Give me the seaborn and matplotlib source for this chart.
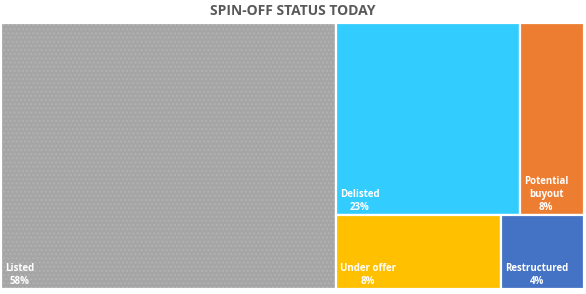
import matplotlib
matplotlib.use("Agg")
import matplotlib.pyplot as plt
import seaborn as sns

# ---- data ----
categories = ["Listed", "Delisted", "Potential\nbuyout", "Under offer", "Restructured"]
values = [58, 23, 8, 8, 4]
pct_labels = ["58%", "23%", "8%", "8%", "4%"]
colors = ["#A5A5A5", "#33CCFF", "#ED7D31", "#FFC000", "#4472C4"]
title = "SPIN-OFF STATUS TODAY"

sns.set_theme(style="white")
plt.rcParams["font.family"] = ["Open Sans", "DejaVu Sans"]

fig = plt.figure(figsize=(5.86, 2.94), dpi=100)
ax = fig.add_axes([1 / 586, 5 / 294, 583 / 586, 266 / 294])

W, H = 1.0, 1.0
total = sum(values)
# layout: first item takes a full-height column; remaining split in two rows
x0 = values[0] / total * W
rects = [(0.0, 0.0, x0, H)]
rest = values[1:]
top_row = rest[:2]
bot_row = rest[2:]
rest_sum = sum(rest)
h_top = sum(top_row) / rest_sum * H
h_bot = H - h_top
rw = W - x0
xx = x0
for v in top_row:
    w = v / sum(top_row) * rw
    rects.append((xx, h_bot, w, h_top))
    xx += w
xx = x0
for v in bot_row:
    w = v / sum(bot_row) * rw
    rects.append((xx, 0.0, w, h_bot))
    xx += w

for i, ((x, y, w, h), c) in enumerate(zip(rects, colors)):
    if i == 0:
        ax.bar(x, h, width=w, bottom=y, align="edge", color=c,
               edgecolor="#B2B2B2", linewidth=0, hatch="....")
    else:
        ax.bar(x, h, width=w, bottom=y, align="edge", color=c, linewidth=0)
    ax.bar(x, h, width=w, bottom=y, align="edge", facecolor="none",
           edgecolor="white", linewidth=1.6)

for (x, y, w, h), name, p in zip(rects, categories, pct_labels):
    ax.text(x + 0.007, y + 0.006, f"{name}\n{p}", ha="left", va="bottom",
            multialignment="center", color="white", fontsize=7,
            fontweight="bold", linespacing=1.25)

ax.set_xlim(0, W)
ax.set_ylim(0, H)
ax.axis("off")

fig.text(0.5, 0.963, title, ha="center", va="center", fontsize=10,
         fontweight="bold", color="#595959")

fig.savefig("out.png", dpi=100)
